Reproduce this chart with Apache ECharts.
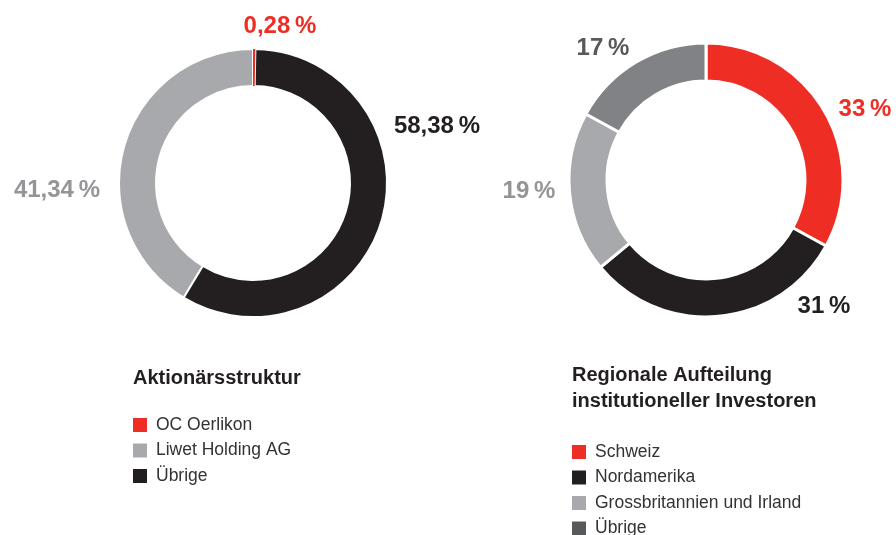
<!DOCTYPE html>
<html>
<head>
<meta charset="utf-8">
<script src="https://cdn.jsdelivr.net/npm/echarts@6/dist/echarts.min.js"></script>
<style>
  html, body { margin: 0; padding: 0; background: #fff; }
  #chart { width: 896px; height: 535px; }
</style>
</head>
<body>
<div id="chart"></div>
<script>
// Aktionärsstruktur (shares in %), listed counter-clockwise from the top
const shareholderNames = ['Liwet Holding AG', 'Übrige', 'OC Oerlikon'];
const shareholderValues = [41.34, 58.38, 0.28];
const shareholderLegend = ['OC Oerlikon', 'Liwet Holding AG', 'Übrige'];

// Regionale Aufteilung institutioneller Investoren (in %), clockwise from the top
const regionNames = ['Schweiz', 'Nordamerika', 'Grossbritannien und Irland', 'Übrige'];
const regionValues = [33, 31, 19, 17];
const regionLegend = ['Schweiz', 'Nordamerika', 'Grossbritannien und Irland', 'Übrige'];

const FONT = '"Liberation Sans", Arial, Helvetica, sans-serif';
const RED = '#ee2e24';
const BLACK = '#231f20';
const LIGHT = '#a7a9ac';
const MID = '#808285';

const shareholderColors = { 'OC Oerlikon': RED, 'Übrige': BLACK, 'Liwet Holding AG': LIGHT };
const shareholderLabelColors = { 'OC Oerlikon': RED, 'Übrige': BLACK, 'Liwet Holding AG': '#939598' };
const regionColors = { 'Schweiz': RED, 'Nordamerika': BLACK, 'Grossbritannien und Irland': LIGHT, 'Übrige': MID };
const regionLabelColors = { 'Schweiz': RED, 'Nordamerika': BLACK, 'Grossbritannien und Irland': '#939598', 'Übrige': '#58595b' };
const regionLegendColors = { 'Schweiz': RED, 'Nordamerika': BLACK, 'Grossbritannien und Irland': LIGHT, 'Übrige': '#58595b' };

// label anchor points (centre of each value label), keyed by slice name
const shareholderLabelPos = { 'OC Oerlikon': [280, 26], 'Übrige': [437, 126], 'Liwet Holding AG': [57, 190] };
const regionLabelPos = {
  'Schweiz': [865, 109], 'Nordamerika': [824, 306],
  'Grossbritannien und Irland': [529, 191], 'Übrige': [603, 48]
};

const NNBSP = '\u202f';
const fmtDecimal = v => v.toFixed(2).replace('.', ',') + NNBSP + '%';
const fmtInt = v => Math.round(v) + NNBSP + '%';

function pieData(names, values, colors, labelColors) {
  return names.map((n, i) => ({
    name: n,
    value: values[i],
    itemStyle: { color: colors[n] },
    label: { color: labelColors[n] }
  }));
}

function legendData(names, colors) {
  return names.map(n => ({ name: n, itemStyle: { color: colors[n], borderWidth: 0 } }));
}

const labelBase = {
  show: true,
  position: 'outside',
  width: 140,
  overflow: 'none',
  fontFamily: FONT,
  fontWeight: 'bold',
  fontSize: 24
};

const legendBase = {
  orient: 'vertical',
  icon: 'rect',
  itemWidth: 14,
  itemHeight: 14,
  itemGap: 7.5,
  padding: 0,
  height: 160,
  selectedMode: false,
  itemStyle: { borderWidth: 0 },
  textStyle: { fontFamily: FONT, fontSize: 17.5, color: '#333', padding: [0, 0, 0, 4] }
};

const chart = echarts.init(document.getElementById('chart'), null, { renderer: 'canvas' });

chart.setOption({
  backgroundColor: '#fff',
  animation: false,
  title: [
    {
      text: 'Aktionärsstruktur',
      left: 133, top: 368,
      padding: 0,
      textStyle: { fontFamily: FONT, fontSize: 20, fontWeight: 'bold', color: BLACK }
    },
    {
      text: 'Regionale Aufteilung\ninstitutioneller Investoren',
      left: 572, top: 362,
      padding: 0,
      textStyle: { fontFamily: FONT, fontSize: 20, fontWeight: 'bold', color: BLACK, lineHeight: 26 }
    }
  ],
  legend: [
    Object.assign({}, legendBase, {
      left: 133, top: 416,
      data: legendData(shareholderLegend, shareholderColors)
    }),
    Object.assign({}, legendBase, {
      left: 572, top: 443,
      data: legendData(regionLegend, regionLegendColors)
    })
  ],
  series: [
    {
      // drawn counter-clockwise so the thin OC Oerlikon slice is painted last, on top of its neighbours' gaps
      type: 'pie',
      center: [253, 183],
      radius: [97, 134],
      startAngle: 90,
      clockwise: false,
      silent: true,
      itemStyle: { borderColor: '#fff', borderWidth: 2 },
      label: Object.assign({}, labelBase, { formatter: p => fmtDecimal(p.value) }),
      labelLine: { show: false },
      labelLayout: p => ({
        x: shareholderLabelPos[shareholderNames[p.dataIndex]][0],
        y: shareholderLabelPos[shareholderNames[p.dataIndex]][1],
        align: 'center',
        verticalAlign: 'middle'
      }),
      data: pieData(shareholderNames, shareholderValues, shareholderColors, shareholderLabelColors)
        .map(d => d.name === 'OC Oerlikon' ? Object.assign(d, { itemStyle: { color: RED, borderWidth: 0 } }) : d)
    },
    {
      type: 'pie',
      center: [706, 180],
      radius: [99, 137],
      startAngle: 90,
      clockwise: true,
      silent: true,
      itemStyle: { borderColor: '#fff', borderWidth: 3 },
      label: Object.assign({}, labelBase, { formatter: p => fmtInt(p.value) }),
      labelLine: { show: false },
      labelLayout: p => ({
        x: regionLabelPos[regionNames[p.dataIndex]][0],
        y: regionLabelPos[regionNames[p.dataIndex]][1],
        align: 'center',
        verticalAlign: 'middle'
      }),
      data: pieData(regionNames, regionValues, regionColors, regionLabelColors)
    }
  ]
});
</script>
</body>
</html>
